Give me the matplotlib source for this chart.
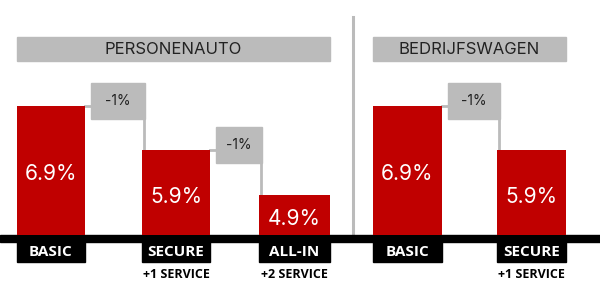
import matplotlib.pyplot as plt
from matplotlib.patches import Rectangle

# data
segments = ["PERSONENAUTO", "BEDRIJFSWAGEN"]
segment_of = [0, 0, 0, 1, 1]
packages = ["BASIC", "SECURE", "ALL-IN", "BASIC", "SECURE"]
extras = ["", "+1 SERVICE", "+2 SERVICE", "", "+1 SERVICE"]
rates = [6.9, 5.9, 4.9, 6.9, 5.9]

# layout
RED = "#c00000"
GREY = "#bbbbbb"
FONT = "Inter"
LABEL_FONT = "Open Sans"
base = 4.0           # value at the black baseline
px = 1 / 44.5        # value units per pixel
centers = [51, 176, 294.5, 407.5, 531.5]
widths = [68, 68, 71, 69, 69]

fig = plt.figure(figsize=(6, 3), dpi=100)
ax = fig.add_axes([0, 0, 1, 1])
ax.set_xlim(0, 600)
ax.set_ylim(base - 65 * px, base + 235 * px)
ax.axis("off")

# bars
ax.bar(centers, [r - base for r in rates], bottom=base, width=widths,
       color=RED, zorder=3)
for c, r in zip(centers, rates):
    ax.text(c, (base + r) / 2 - 4 * px, f"{r:.1f}%", color="white",
            fontsize=15, ha="center", va="center", family=FONT, zorder=4)

# baseline + package labels
ax.axhspan(base - 7 * px, base, color="black", zorder=2)
for c, w, name, extra in zip(centers, widths, packages, extras):
    ax.add_patch(Rectangle((c - w / 2, base - 27 * px), w, 20 * px,
                           color="black", zorder=2))
    ax.text(c, base - 17.5 * px, name, color="white", fontsize=11,
            fontweight="bold", ha="center", va="center", family=LABEL_FONT)
    if extra:
        ax.text(c, base - 40 * px, extra, color="black", fontsize=9,
                fontweight="bold", ha="center", va="center", family=LABEL_FONT)

# segment headers
for s, name in enumerate(segments):
    idx = [i for i, g in enumerate(segment_of) if g == s]
    x0 = centers[idx[0]] - widths[idx[0]] / 2
    x1 = centers[idx[-1]] + widths[idx[-1]] / 2
    ax.add_patch(Rectangle((x0, base + 174 * px), x1 - x0, 24 * px,
                           color=GREY, zorder=1))
    ax.text((x0 + x1) / 2, base + 186 * px, name, color="#222222",
            fontsize=12, ha="center", va="center", family=FONT)

# separator between segments
ax.plot([352.5, 352.5], [base, base + 218 * px], color=GREY, lw=2.2, zorder=1)

# step badges between consecutive packages
for i in range(len(rates) - 1):
    if segment_of[i] != segment_of[i + 1]:
        continue
    r0 = centers[i] + widths[i] / 2
    l1 = centers[i + 1] - widths[i + 1] / 2
    bx0, bx1 = r0 + 6, l1 + 3
    yc = rates[i] + 5 * px
    ax.plot([r0, bx0], [rates[i], rates[i]], color=GREY, lw=2, zorder=1)
    ax.plot([l1 + 1.5, l1 + 1.5], [yc - 18 * px, rates[i + 1]],
            color=GREY, lw=2, zorder=1)
    ax.add_patch(Rectangle((bx0, yc - 18 * px), bx1 - bx0, 36 * px,
                           color=GREY, zorder=1))
    diff = rates[i + 1] - rates[i]
    ax.text((bx0 + bx1) / 2, yc, f"{diff:.0f}%", color="#222222",
            fontsize=10, ha="center", va="center", family=FONT)

fig.savefig("out.png", dpi=100)
